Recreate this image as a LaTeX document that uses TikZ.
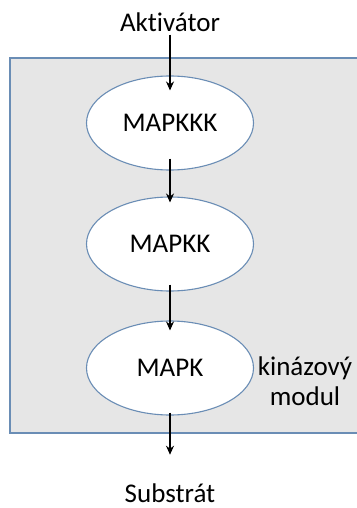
\documentclass[tikz,border=0pt]{standalone}
\usepackage{fontspec}
\setmainfont[Ligatures=NoCommon]{Carlito}
\usepackage{xcolor}
\usetikzlibrary{shapes.geometric,arrows.meta}

\definecolor{modulgray}{HTML}{E6E6E6}
\definecolor{edgeblue}{HTML}{6A8DB5}

\begin{document}
\begin{tikzpicture}[x=1pt,y=-1pt,
    kinase/.style={ellipse, draw=edgeblue, line width=1.1pt, fill=white,
        minimum width=167pt, minimum height=94pt, inner sep=0pt},
    txt/.style={font=\fontsize{27}{30}\selectfont},
    signal/.style={-{Stealth[length=9pt,width=8pt]}, line width=1.2pt, black}]
    \useasboundingbox (0,0) rectangle (356,508);

    % =====================
    % Module frame
    % =====================
    \draw[edgeblue, line width=1.4pt, fill=modulgray] (10,58) rectangle (362,433);

    % =====================
    % Cascade
    % =====================
    \node[kinase, txt] (mapkkk) at (170,123) {MAPKKK};
    \node[kinase, txt] (mapkk) at (170,244) {MAPKK};
    \node[kinase, txt] (mapk) at (170,368) {MAPK};

    \node[txt, anchor=base] (akt) at (170,32) {Aktivátor};
    \node[txt, anchor=base] (sub) at (170,502) {Substrát};
    \node[txt, align=center] (modul) at (305,381) {kinázový\\modul};

    % Arrows
    \draw[signal, shorten <=-1pt, shorten >=-15pt] (akt) -- (mapkkk);
    \draw[signal, shorten <=-12pt, shorten >=-6pt] (mapkkk) -- (mapkk);
    \draw[signal, shorten <=-7pt, shorten >=-10pt] (mapkk) -- (mapk);
    \draw[signal, shorten <=-3pt, shorten >=25pt] (mapk) -- (sub);
\end{tikzpicture}
\end{document}
